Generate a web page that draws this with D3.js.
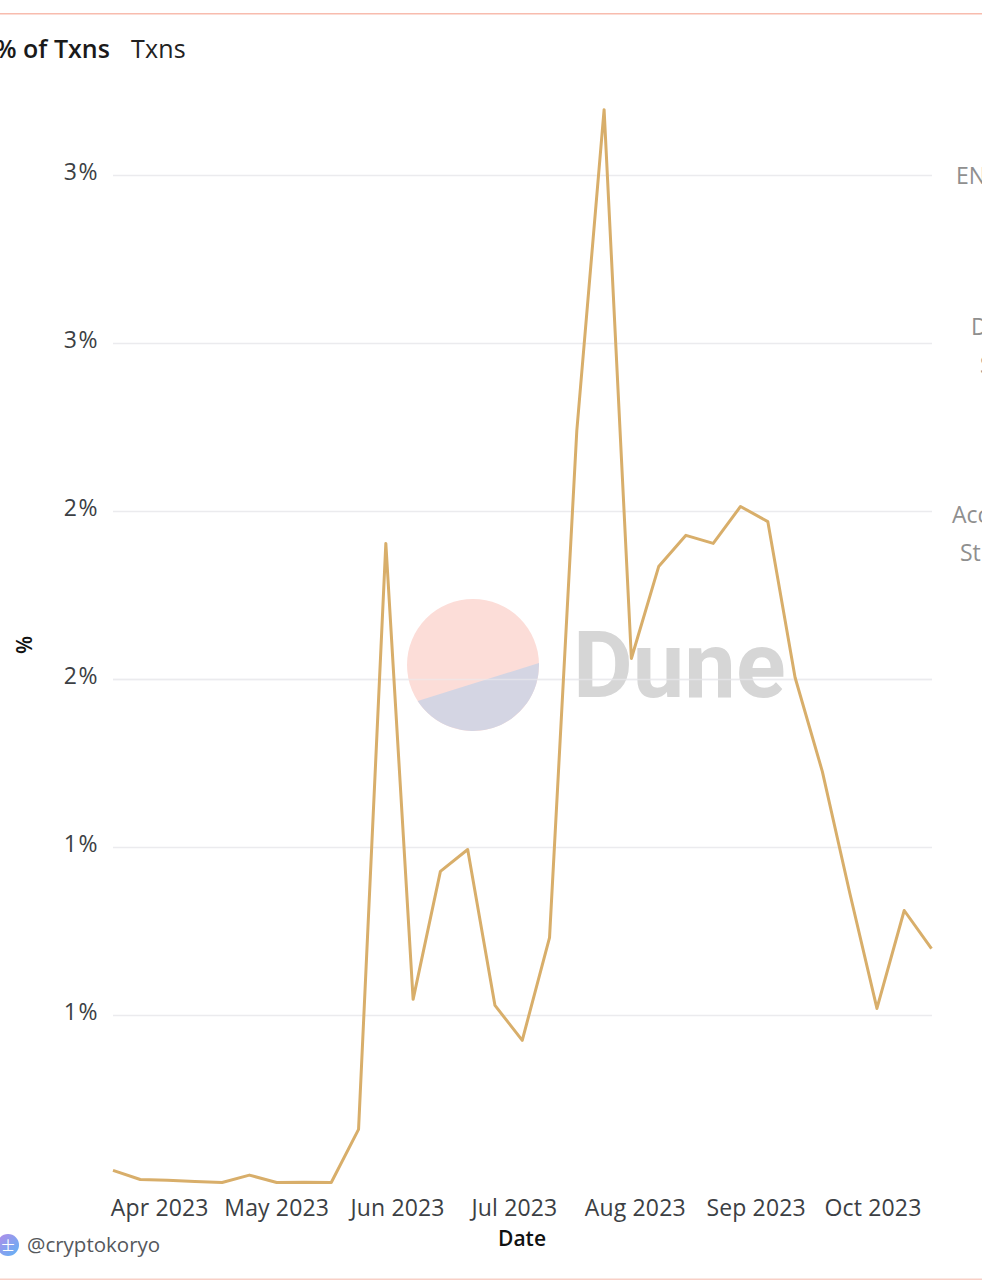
<!DOCTYPE html>
<html>
<head>
<meta charset="utf-8">
<script src="https://cdn.jsdelivr.net/npm/d3@7"></script>
<style>
html,body{margin:0;padding:0;background:#fff;overflow:hidden}
svg{display:block}
text{font-family:"Open Sans","Noto Sans",sans-serif}
</style>
</head>
<body>
<svg id="c" width="982" height="1280"></svg>
<script>
const startDate = "2023-03-20";
const pct = [0.539,0.512,0.510,0.506,0.503,0.525,0.503,0.504,0.503,0.661,2.405,1.048,1.429,1.494,1.030,0.926,1.232,2.741,3.696,2.0625,2.336,2.429,2.405,2.515,2.470,2.006,1.726,1.366,1.021,1.3125,1.199];
const yTicks = [1,1.5,2,2.5,3,3.5];
const yTickLabels = ["1%","1%","2%","2%","3%","3%"];
const xTicks = ["2023-04-01","2023-05-01","2023-06-01","2023-07-01","2023-08-01","2023-09-01","2023-10-01"];
const xTickLabels = ["Apr 2023","May 2023","Jun 2023","Jul 2023","Aug 2023","Sep 2023","Oct 2023"];
const tabs = ["% of Txns","Txns"];
const legendRight = ["EN","D","S","Acc","St"];
const legendX = [956,971,980,952,960];
const legendY = [184,335,373,523,561];

const parse = d3.utcParse("%Y-%m-%d");
const start = parse(startDate);
const dates = pct.map((_,i)=>d3.utcDay.offset(start,i*7));
const x = d3.scaleUtc().domain([dates[0],dates[dates.length-1]]).range([113,931.5]);
const y = d3.scaleLinear().domain([0.5,3.5]).range([1183.5,175.5]);
const svg = d3.select("#c");

svg.append("rect").attr("x",0).attr("y",13).attr("width",982).attr("height",1.5).attr("fill","#f8bcae");
svg.append("rect").attr("x",0).attr("y",1278.5).attr("width",982).attr("height",1.5).attr("fill","#f8cfc6");

// tabs
svg.append("text").attr("x",-5).attr("y",58).attr("font-size",25).attr("font-weight",600).attr("fill","#1a1a1a").text(tabs[0]);
svg.append("text").attr("x",131).attr("y",58).attr("font-size",25).attr("letter-spacing",0.2).attr("fill","#222").text(tabs[1]);

// grid
svg.append("g").selectAll("line").data(yTicks).join("line")
  .attr("x1",113).attr("x2",932).attr("y1",d=>y(d)).attr("y2",d=>y(d))
  .attr("stroke","#ebebee").attr("stroke-width",1.5);

// y labels
svg.append("g").selectAll("text").data(yTicks).join("text")
  .attr("x",99).attr("y",d=>y(d)+4).attr("text-anchor","end").attr("font-size",23).attr("letter-spacing",1.5)
  .attr("fill","#3c3f44").text((d,i)=>yTickLabels[i]);

// watermark
const cx=473, cy=665, r=66;
svg.append("circle").attr("cx",cx).attr("cy",cy).attr("r",r).attr("fill","#fcddd8");
const a1=-0.03, a2=2.564;
svg.append("path").attr("d",`M${cx+r*Math.cos(a1)},${cy+r*Math.sin(a1)} A${r},${r} 0 0 1 ${cx+r*Math.cos(a2)},${cy+r*Math.sin(a2)} Z`).attr("fill","#d4d5e3");
svg.append("text").attr("x",573).attr("y",697).attr("font-size",92).attr("font-weight",700)
  .style("font-family","Roboto").attr("fill","#d6d6d6").text("Dune");

// faint grid line across the watermark
svg.append("line").attr("x1",113).attr("x2",932).attr("y1",y(2)).attr("y2",y(2)).attr("stroke","#ebebee").attr("stroke-opacity",0.6).attr("stroke-width",1.5);

// line
const line = d3.line().x((d,i)=>x(dates[i])).y(d=>y(d));
svg.append("path").datum(pct).attr("d",line).attr("fill","none").attr("stroke","#d8ae6a").attr("stroke-width",3).attr("stroke-linejoin","round");

// x labels
svg.append("g").selectAll("text").data(xTicks).join("text")
  .attr("x",d=>x(parse(d))).attr("y",1216).attr("text-anchor","middle").attr("font-size",23).attr("letter-spacing",0.15)
  .attr("fill","#3c3f44").text((d,i)=>xTickLabels[i]);

// axis titles
svg.append("text").attr("x",522).attr("y",1246).attr("text-anchor","middle").attr("font-size",21).attr("font-weight",600).attr("fill","#111").text("Date");
svg.append("text").attr("transform","translate(32,645) rotate(-90)").attr("text-anchor","middle").attr("font-size",21).attr("font-weight",600).attr("fill","#111").text("%");

// right side labels
svg.append("g").selectAll("text").data(legendRight).join("text")
  .attr("x",(d,i)=>legendX[i]).attr("y",(d,i)=>legendY[i]).attr("font-size",23).attr("fill","#8f8f8f").text(d=>d);

// footer
const g = svg.append("defs").append("linearGradient").attr("id","av").attr("x1","0").attr("y1","0").attr("x2","1").attr("y2","1");
g.append("stop").attr("offset","0").attr("stop-color","#b48ae8");
g.append("stop").attr("offset","1").attr("stop-color","#5fb4f5");
svg.append("circle").attr("cx",8).attr("cy",1245).attr("r",11).attr("fill","url(#av)");
svg.append("text").attr("x",8).attr("y",1250).attr("text-anchor","middle").attr("font-size",13).style("font-family","Noto Sans CJK SC").attr("fill","#fff").text("士");
svg.append("text").attr("x",27).attr("y",1252).attr("font-size",20.5).attr("fill","#55585c").text("@cryptokoryo");
</script>
</body>
</html>
